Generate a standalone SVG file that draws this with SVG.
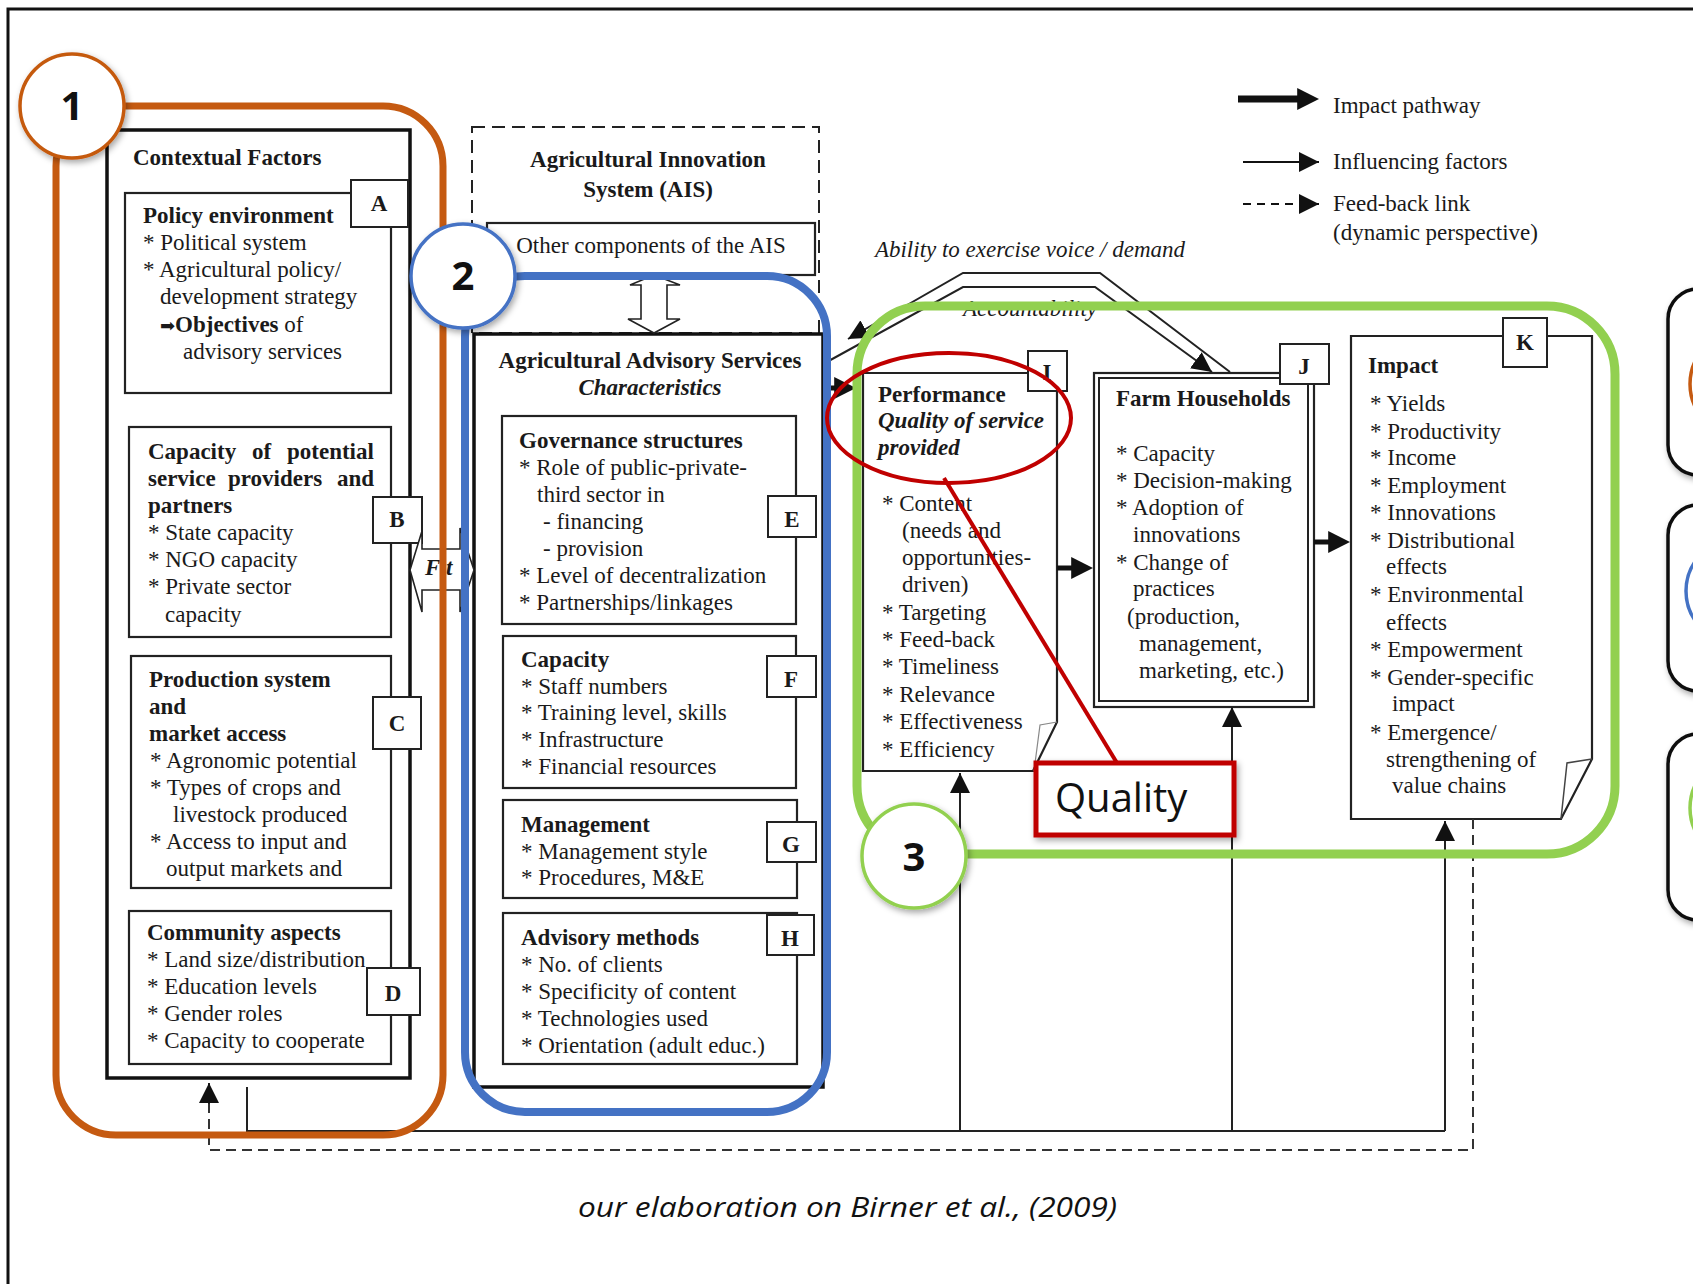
<svg xmlns="http://www.w3.org/2000/svg" width="1693" height="1284" viewBox="0 0 1693 1284">
<defs>
<style>
.t{font-family:"Liberation Serif","Times New Roman",serif;font-size:23px;fill:#1a1a1a}
.b{font-weight:bold}
.i{font-style:italic}
.c{text-anchor:middle}
.box{fill:#fff;stroke:#222;stroke-width:2.2}
.big{fill:#fff;stroke:#111;stroke-width:3.5}
.lb{fill:#fff;stroke:#222;stroke-width:2}
.ln{fill:none;stroke:#222;stroke-width:2}
.dash{fill:none;stroke:#333;stroke-width:2;stroke-dasharray:10 6}
.num{font-family:"Open Sans","Liberation Sans",sans-serif;font-weight:bold;font-size:40px;fill:#111;text-anchor:middle}
.cal{font-family:"Open Sans","Liberation Sans",sans-serif;fill:#111}
</style>
<marker id="tri" viewBox="0 0 10 10" refX="10" refY="5" markerUnits="userSpaceOnUse" markerWidth="20" markerHeight="20" orient="auto"><path d="M0,0 L10,5 L0,10 z" fill="#111"/></marker>
<marker id="thk" viewBox="0 0 10 10" refX="4" refY="5" markerUnits="userSpaceOnUse" markerWidth="22" markerHeight="24" orient="auto"><path d="M0,0 L10,5 L0,10 z" fill="#111"/></marker>
<filter id="sh" x="-20%" y="-20%" width="140%" height="140%"><feDropShadow dx="2" dy="3" stdDeviation="3" flood-color="#000" flood-opacity="0.35"/></filter>
</defs>
<rect width="1693" height="1284" fill="#fff"/>
<rect x="8" y="9" width="1700" height="1300" fill="none" stroke="#111" stroke-width="3"/>

<!-- Legend -->
<g id="legend">
<path d="M1238,99 L1306,99" stroke="#111" stroke-width="7" marker-end="url(#thk)"/>
<text class="t" x="1333" y="113">Impact pathway</text>
<path d="M1243,162 L1319,162" stroke="#111" stroke-width="1.8" marker-end="url(#tri)"/>
<text class="t" x="1333" y="169">Influencing factors</text>
<path d="M1243,204 L1319,204" stroke="#111" stroke-width="1.8" stroke-dasharray="8 6" marker-end="url(#tri)"/>
<text class="t" x="1333" y="211">Feed-back link</text>
<text class="t" x="1333" y="240">(dynamic perspective)</text>
</g>

<!-- Contextual factors -->
<g id="contextual">
<rect class="big" x="107" y="130" width="303" height="948"/>
<text class="t b" x="133" y="165">Contextual Factors</text>
</g>
<g id="nodeA">
<rect class="box" x="125" y="193" width="266" height="200"/>
<rect class="lb" x="351" y="180" width="57" height="47"/>
<text class="t b c" x="379" y="211">A</text>
<text class="t b" x="143" y="223">Policy environment</text>
<text class="t" x="143" y="250">* Political system</text>
<text class="t" x="143" y="277">* Agricultural policy/</text>
<text class="t" x="160" y="304">development strategy</text>
<text class="t" x="160" y="332"><tspan font-family="DejaVu Sans" font-size="18">➡</tspan><tspan class="b">Objectives</tspan> of</text>
<text class="t" x="183" y="359">advisory services</text>
</g>
<g id="nodeB">
<rect class="box" x="129" y="427" width="262" height="210"/>
<rect class="lb" x="373" y="497" width="49" height="46"/>
<text class="t b c" x="397" y="527">B</text>
<text class="t b" y="459"><tspan x="148">Capacity</tspan><tspan x="252">of</tspan><tspan x="287">potential</tspan></text>
<text class="t b" y="486"><tspan x="148">service</tspan><tspan x="228">providers</tspan><tspan x="337">and</tspan></text>
<text class="t b" x="148" y="513">partners</text>
<text class="t" x="148" y="540">* State capacity</text>
<text class="t" x="148" y="567">* NGO capacity</text>
<text class="t" x="148" y="594">* Private sector</text>
<text class="t" x="165" y="622">capacity</text>
</g>
<g id="nodeC">
<rect class="box" x="131" y="656" width="260" height="232"/>
<rect class="lb" x="373" y="697" width="48" height="52"/>
<text class="t b c" x="397" y="731">C</text>
<text class="t b" x="149" y="687">Production system</text>
<text class="t b" x="149" y="714">and</text>
<text class="t b" x="149" y="741">market access</text>
<text class="t" x="150" y="768">* Agronomic potential</text>
<text class="t" x="150" y="795">* Types of crops and</text>
<text class="t" x="173" y="822">livestock produced</text>
<text class="t" x="150" y="849">* Access to input and</text>
<text class="t" x="166" y="876">output markets and</text>
</g>
<g id="nodeD">
<rect class="box" x="129" y="911" width="262" height="153"/>
<rect class="lb" x="367" y="968" width="53" height="47"/>
<text class="t b c" x="393" y="1001">D</text>
<text class="t b" x="147" y="940">Community aspects</text>
<text class="t" x="147" y="967">* Land size/distribution</text>
<text class="t" x="147" y="994">* Education levels</text>
<text class="t" x="147" y="1021">* Gender roles</text>
<text class="t" x="147" y="1048">* Capacity to cooperate</text>
</g>

<!-- AIS -->
<g id="ais">
<rect x="472" y="127" width="347" height="206" fill="none" stroke="#222" stroke-width="2" stroke-dasharray="13 7"/>
<text class="t b c" x="648" y="167">Agricultural Innovation</text>
<text class="t b c" x="648" y="197">System (AIS)</text>
</g>
<g id="other">
<rect class="box" x="487" y="223" width="328" height="52"/>
<text class="t c" x="651" y="253">Other components of the AIS</text>
</g>

<!-- AAS -->
<g id="aas">
<rect class="big" x="474" y="334" width="349" height="753"/>
<text class="t b c" x="650" y="368">Agricultural Advisory Services</text>
<text class="t b i c" x="650" y="395">Characteristics</text>
</g>
<g id="nodeE">
<rect class="box" x="502" y="416" width="294" height="208"/>
<rect class="lb" x="768" y="496" width="48" height="41"/>
<text class="t b c" x="792" y="527">E</text>
<text class="t b" x="519" y="448">Governance structures</text>
<text class="t" x="519" y="475">* Role of public-private-</text>
<text class="t" x="537" y="502">third sector in</text>
<text class="t" x="543" y="529">- financing</text>
<text class="t" x="543" y="556">- provision</text>
<text class="t" x="519" y="583">* Level of decentralization</text>
<text class="t" x="519" y="610">* Partnerships/linkages</text>
</g>
<g id="nodeF">
<rect class="box" x="503" y="636" width="293" height="152"/>
<rect class="lb" x="767" y="656" width="49" height="41"/>
<text class="t b c" x="791" y="687">F</text>
<text class="t b" x="521" y="667">Capacity</text>
<text class="t" x="521" y="694">* Staff numbers</text>
<text class="t" x="521" y="720">* Training level, skills</text>
<text class="t" x="521" y="747">* Infrastructure</text>
<text class="t" x="521" y="774">* Financial resources</text>
</g>
<g id="nodeG">
<rect class="box" x="503" y="800" width="294" height="98"/>
<rect class="lb" x="767" y="822" width="49" height="40"/>
<text class="t b c" x="791" y="852">G</text>
<text class="t b" x="521" y="832">Management</text>
<text class="t" x="521" y="859">* Management style</text>
<text class="t" x="521" y="885">* Procedures, M&amp;E</text>
</g>
<g id="nodeH">
<rect class="box" x="503" y="913" width="294" height="151"/>
<rect class="lb" x="767" y="915" width="47" height="40"/>
<text class="t b c" x="790" y="946">H</text>
<text class="t b" x="521" y="945">Advisory methods</text>
<text class="t" x="521" y="972">* No. of clients</text>
<text class="t" x="521" y="999">* Specificity of content</text>
<text class="t" x="521" y="1026">* Technologies used</text>
<text class="t" x="521" y="1053">* Orientation (adult educ.)</text>
</g>

<!-- Performance I -->
<g id="nodeI">
<path class="box" d="M863,373 L1057,373 L1057,722 L1033,771 L863,771 Z"/>
<path d="M1057,722 L1040,725 L1034,771" fill="none" stroke="#888" stroke-width="1.2"/>
<rect class="lb" x="1028" y="351" width="39" height="40"/>
<text class="t b c" x="1047" y="380">I</text>
<text class="t b" x="878" y="402">Performance</text>
<text class="t b i" x="878" y="428">Quality of service</text>
<text class="t b i" x="878" y="455">provided</text>
<text class="t" x="882" y="511">* Content</text>
<text class="t" x="902" y="538">(needs and</text>
<text class="t" x="902" y="565">opportunities-</text>
<text class="t" x="902" y="592">driven)</text>
<text class="t" x="882" y="620">* Targeting</text>
<text class="t" x="882" y="647">* Feed-back</text>
<text class="t" x="882" y="674">* Timeliness</text>
<text class="t" x="882" y="702">* Relevance</text>
<text class="t" x="882" y="729">* Effectiveness</text>
<text class="t" x="882" y="757">* Efficiency</text>
</g>

<!-- Farm Households J -->
<g id="nodeJ">
<rect class="box" x="1094" y="373" width="220" height="334"/>
<rect fill="none" stroke="#222" stroke-width="2" x="1099" y="378" width="209" height="323"/>
<rect class="lb" x="1280" y="344" width="49" height="40"/>
<text class="t b c" x="1304" y="374">J</text>
<text class="t b" x="1116" y="406">Farm Households</text>
<text class="t" x="1116" y="461">* Capacity</text>
<text class="t" x="1116" y="488">* Decision-making</text>
<text class="t" x="1116" y="515">* Adoption of</text>
<text class="t" x="1133" y="542">innovations</text>
<text class="t" x="1116" y="570">* Change of</text>
<text class="t" x="1133" y="596">practices</text>
<text class="t" x="1127" y="624">(production,</text>
<text class="t" x="1139" y="651">management,</text>
<text class="t" x="1139" y="678">marketing, etc.)</text>
</g>

<!-- Impact K -->
<g id="nodeK">
<path class="box" d="M1351,336 L1592,336 L1592,759 L1561,819 L1351,819 Z"/>
<path d="M1592,759 L1567,763 L1561,819" fill="none" stroke="#444" stroke-width="1.5"/>
<rect class="lb" x="1503" y="318" width="44" height="49"/>
<text class="t b c" x="1525" y="350">K</text>
<text class="t b" x="1368" y="373">Impact</text>
<text class="t" x="1370" y="411">* Yields</text>
<text class="t" x="1370" y="439">* Productivity</text>
<text class="t" x="1370" y="465">* Income</text>
<text class="t" x="1370" y="493">* Employment</text>
<text class="t" x="1370" y="520">* Innovations</text>
<text class="t" x="1370" y="548">* Distributional</text>
<text class="t" x="1386" y="574">effects</text>
<text class="t" x="1370" y="602">* Environmental</text>
<text class="t" x="1386" y="630">effects</text>
<text class="t" x="1370" y="657">* Empowerment</text>
<text class="t" x="1370" y="685">* Gender-specific</text>
<text class="t" x="1392" y="711">impact</text>
<text class="t" x="1370" y="740">* Emergence/</text>
<text class="t" x="1386" y="767">strengthening of</text>
<text class="t" x="1392" y="793">value chains</text>
</g>

<!-- Connectors -->
<g id="connectors">
<polygon points="654,275 680,285 667,285 667,319 680,319 654,333 628,319 641,319 641,285 630,285" fill="#fff" stroke="#222" stroke-width="1.6"/>
<polygon points="410,570 422,531 422,549 460,549 460,528 474,570 460,612 460,590 422,590 422,612" fill="#fff" stroke="#222" stroke-width="1.6"/>
<text class="t b i" x="425" y="575" font-size="22">F</text>
<text class="t b i" x="446" y="575" font-size="22">t</text>
<path class="ln" stroke-width="1.6" d="M1230,372 L1100,273 L963,273 L848,339" marker-end="url(#tri)"/>
<path class="ln" stroke-width="1.6" d="M825,363 L963,287 L1095,287 L1212,372" marker-end="url(#tri)"/>
<text class="t i c" x="1030" y="257" font-size="22">Ability to exercise voice / demand</text>
<text class="t i c" x="1030" y="316" font-size="22">Accountability</text>
<path d="M824,388 L843,388" stroke="#111" stroke-width="5" marker-end="url(#thk)"/>
<path d="M1057,568 L1080,568" stroke="#111" stroke-width="5" marker-end="url(#thk)"/>
<path d="M1314,542 L1337,542" stroke="#111" stroke-width="5" marker-end="url(#thk)"/>
<path class="ln" d="M247,1087 L247,1131 L1445,1131"/>
<path class="ln" d="M960,1131 L960,773" marker-end="url(#tri)"/>
<path class="ln" d="M1232,1131 L1232,707" marker-end="url(#tri)"/>
<path class="ln" d="M1445,1131 L1445,821" marker-end="url(#tri)"/>
<path class="dash" d="M1473,819 L1473,1150 L209,1150 L209,1104"/>
<path d="M209,1104 L209,1083" stroke="#222" stroke-width="2" marker-end="url(#tri)"/>
</g>

<!-- Right-edge boxes -->
<g id="sidebox1"><rect x="1668" y="289" width="120" height="186" rx="30" fill="#fff" stroke="#111" stroke-width="3.5" filter="url(#sh)"/><circle cx="1742" cy="384" r="52" fill="#fff" stroke="#C55A11" stroke-width="3.5"/></g>
<g id="sidebox2"><rect x="1668" y="505" width="120" height="186" rx="30" fill="#fff" stroke="#111" stroke-width="3.5" filter="url(#sh)"/><circle cx="1738" cy="591" r="52" fill="#fff" stroke="#4472C4" stroke-width="3.5"/></g>
<g id="sidebox3"><rect x="1668" y="734" width="120" height="186" rx="30" fill="#fff" stroke="#111" stroke-width="3.5" filter="url(#sh)"/><circle cx="1742" cy="808" r="52" fill="#fff" stroke="#92D050" stroke-width="3.5"/></g>

<!-- Highlight groups -->
<g id="group1">
<rect x="56" y="106" width="387" height="1029" rx="60" fill="none" stroke="#C55A11" stroke-width="7"/>
</g>
<g id="group2">
<rect x="465" y="276" width="362" height="836" rx="60" fill="none" stroke="#4472C4" stroke-width="8"/>
</g>
<g id="group3">
<rect x="857" y="306" width="758" height="548" rx="68" fill="none" stroke="#92D050" stroke-width="9"/>
</g>

<!-- Quality callout -->
<g id="quality">
<ellipse cx="949" cy="418" rx="122" ry="65" fill="none" stroke="#C00000" stroke-width="4"/>
<path d="M944,478 L1117,763" stroke="#C00000" stroke-width="4"/>
<rect x="1036" y="763" width="198" height="72" fill="#fff" stroke="#C00000" stroke-width="5" filter="url(#sh)"/>
<text class="cal" x="1055" y="812" font-size="40">Quality</text>
</g>

<!-- Numbered circles -->
<g id="circle1"><circle cx="72" cy="106" r="52" fill="#fff" stroke="#C55A11" stroke-width="3.5" filter="url(#sh)"/><text class="num" x="72" y="120">1</text></g>
<g id="circle2"><circle cx="463" cy="276" r="52" fill="#fff" stroke="#4472C4" stroke-width="3.5" filter="url(#sh)"/><text class="num" x="463" y="290">2</text></g>
<g id="circle3"><circle cx="914" cy="856" r="52" fill="#fff" stroke="#92D050" stroke-width="3.5" filter="url(#sh)"/><text class="num" x="914" y="871">3</text></g>

<text class="cal" x="578" y="1217" font-size="27" font-style="italic" textLength="539" lengthAdjust="spacingAndGlyphs">our elaboration on Birner et al., (2009)</text>
</svg>
